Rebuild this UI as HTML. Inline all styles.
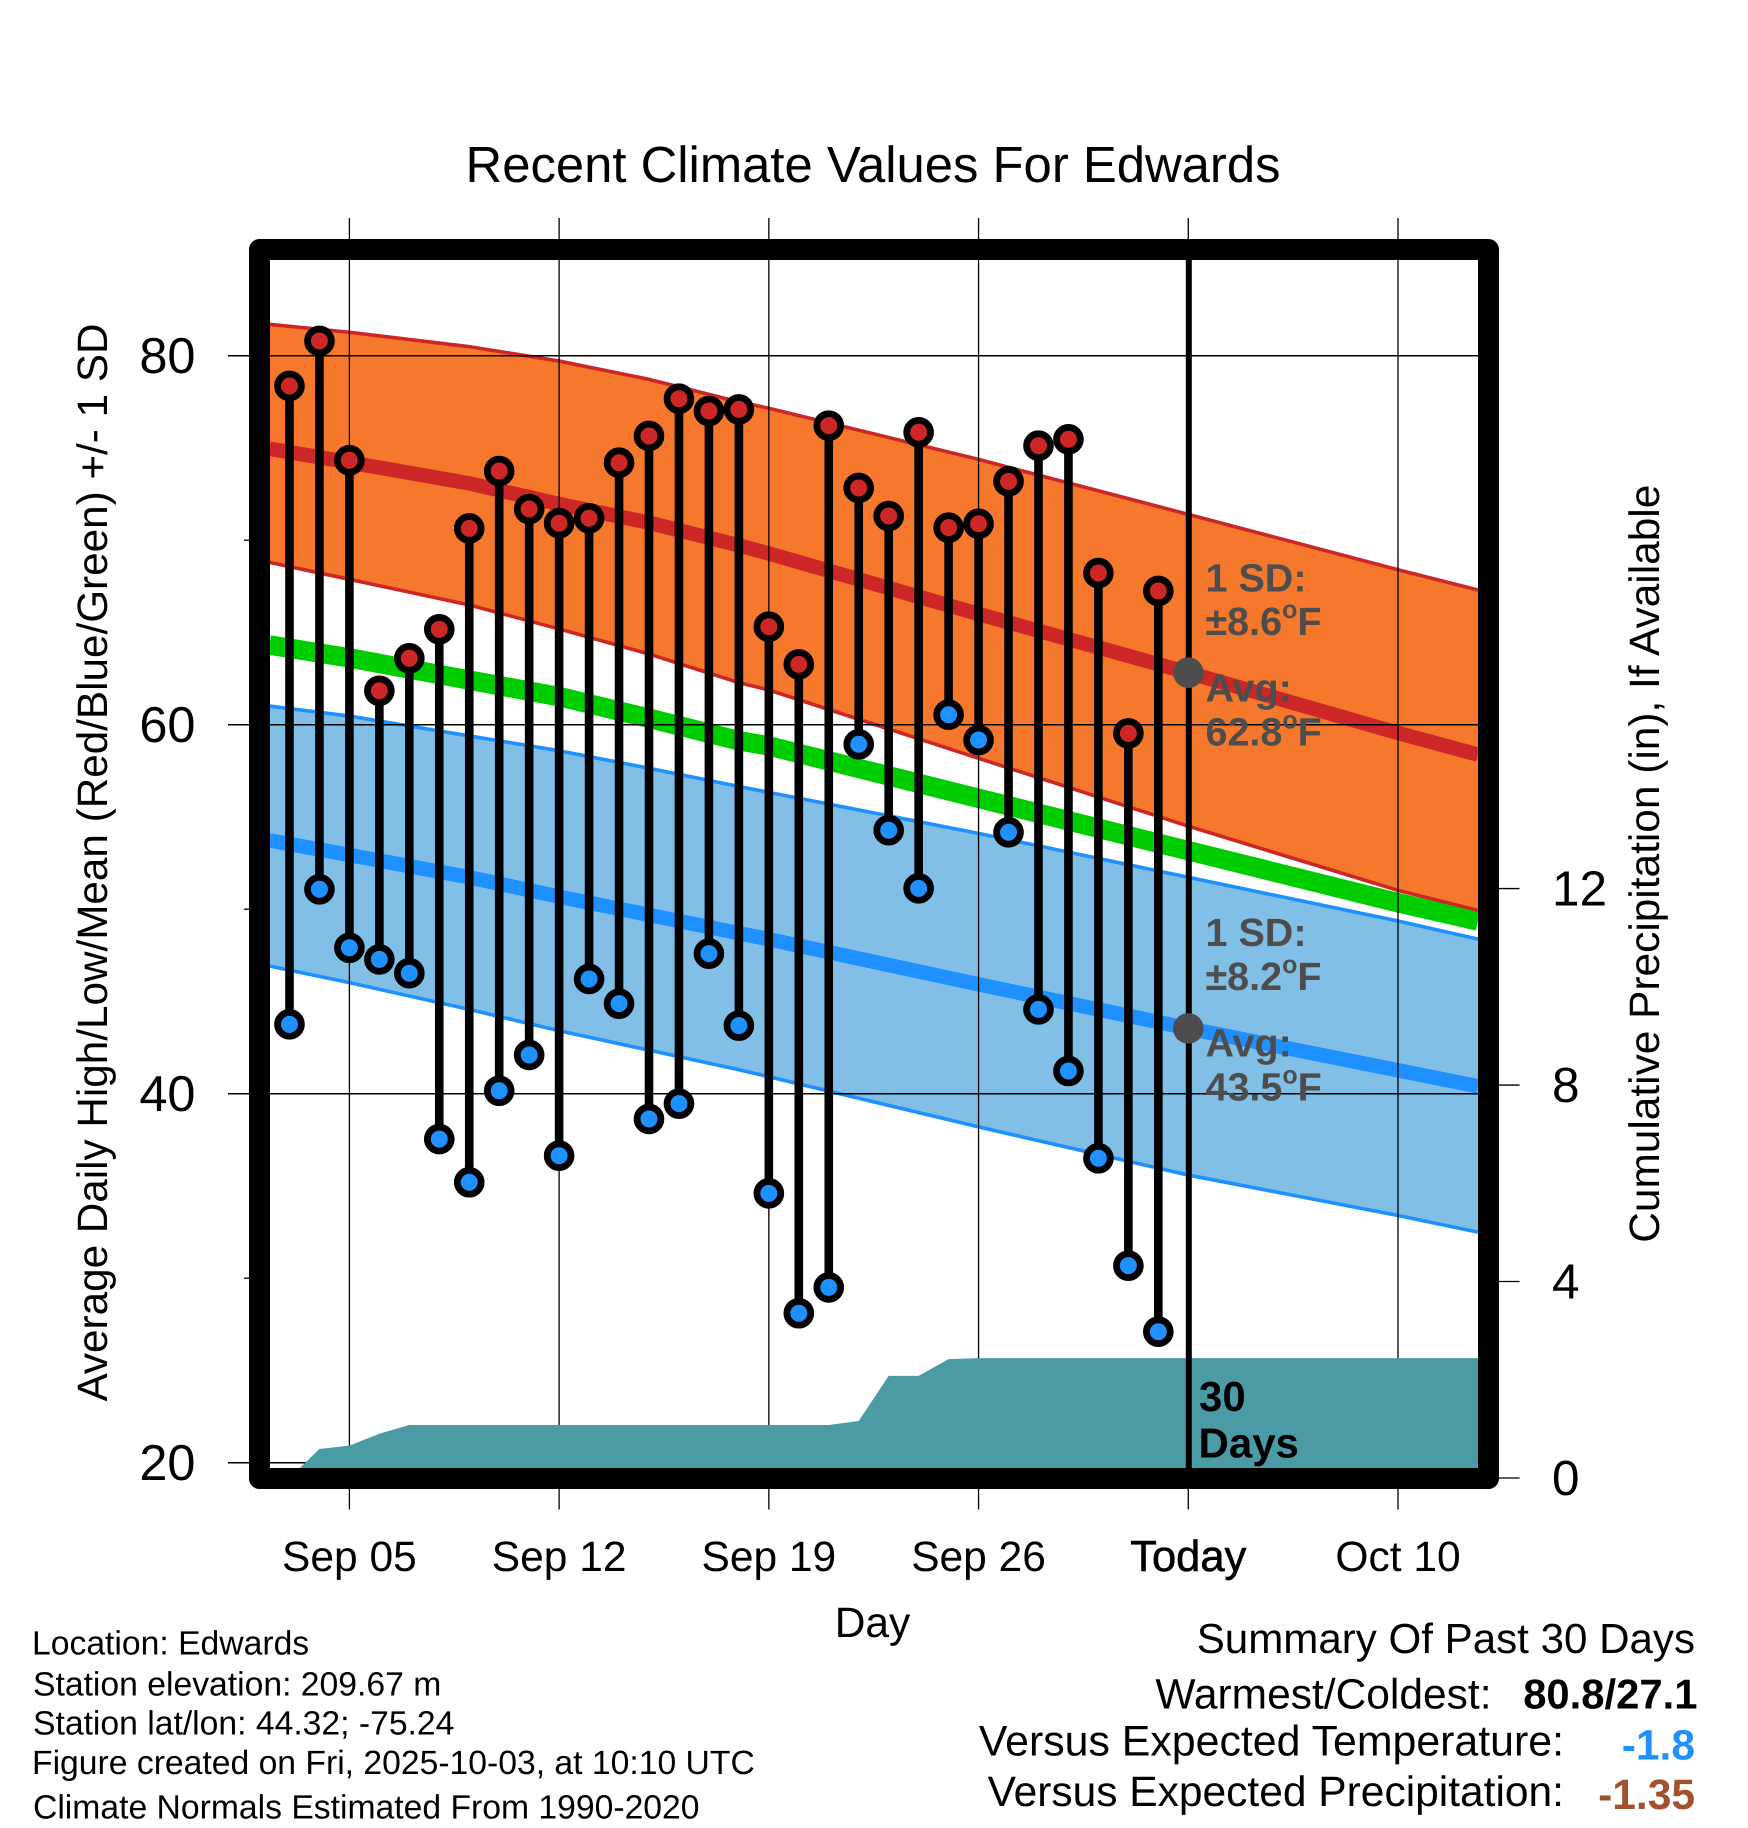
<!DOCTYPE html>
<html lang="en">
<head>
<meta charset="utf-8">
<title>Recent Climate Values For Edwards</title>
<style>
html,body{margin:0;padding:0;background:#fff;}
svg{display:block;}
text{font-family:"Liberation Sans",Arial,sans-serif;fill:#000;text-rendering:geometricPrecision;}
.note{font-weight:bold;font-size:39.5px;fill:#4d4d4d;}
.sup{font-size:25px;}
.xt{font-size:42.5px;text-anchor:middle;}
.yl{font-size:50.5px;text-anchor:end;}
.yr{font-size:49.5px;}
.info{font-size:33.7px;}
.sum{font-size:42.5px;text-anchor:end;}
.sumv{font-size:41.8px;font-weight:bold;text-anchor:end;}
</style>
</head>
<body>
<svg id="chart" xmlns="http://www.w3.org/2000/svg" width="1748" height="1828" viewBox="0 0 1748 1828">
  <rect x="0" y="0" width="1748" height="1828" fill="#fff"/>
  <g id="bands"></g>
  <g id="grid"></g>
  <g id="precip"></g>
  <g id="stems"></g>
  <line x1="1188.8" y1="255" x2="1188.8" y2="1470" stroke="#000" stroke-width="6"/>
  <g id="dots"></g>
  <rect x="259.5" y="249.5" width="1229" height="1229" fill="none" stroke="#000" stroke-width="21" stroke-linejoin="round"/>
  <g id="avgdots"></g>
  <g id="xlabels"></g>
  <g id="ylabels"></g>

  <text x="873" y="182" font-size="50.8" text-anchor="middle">Recent Climate Values For Edwards</text>
  <text x="872.5" y="1637" font-size="42.5" text-anchor="middle">Day</text>
  <text transform="translate(107,862.5) rotate(-90)" font-size="42.5" text-anchor="middle" textLength="1078" lengthAdjust="spacingAndGlyphs">Average Daily High/Low/Mean (Red/Blue/Green) +/- 1 SD</text>
  <text transform="translate(1659,863.7) rotate(-90)" font-size="42.5" text-anchor="middle" textLength="758" lengthAdjust="spacingAndGlyphs">Cumulative Precipitation (in), If Available</text>

  <text class="note" x="1205.5" y="591.5">1 SD:</text>
  <text class="note" x="1205.5" y="635">±8.6<tspan class="sup" dy="-17">o</tspan><tspan dy="17">F</tspan></text>
  <text class="note" x="1205.5" y="701.5">Avg:</text>
  <text class="note" x="1205.5" y="745.5">62.8<tspan class="sup" dy="-17">o</tspan><tspan dy="17">F</tspan></text>
  <text class="note" x="1205.5" y="946">1 SD:</text>
  <text class="note" x="1205.5" y="990">±8.2<tspan class="sup" dy="-17">o</tspan><tspan dy="17">F</tspan></text>
  <text class="note" x="1205.5" y="1056.5">Avg:</text>
  <text class="note" x="1205.5" y="1100.5">43.5<tspan class="sup" dy="-17">o</tspan><tspan dy="17">F</tspan></text>

  <text x="1199" y="1411" font-size="42" font-weight="bold">30</text>
  <text x="1198.5" y="1457.3" font-size="42" font-weight="bold">Days</text>

  <text class="info" x="32" y="1654.5">Location: Edwards</text>
  <text class="info" x="33" y="1695.6">Station elevation: 209.67 m</text>
  <text class="info" x="33" y="1734.7">Station lat/lon: 44.32; -75.24</text>
  <text class="info" x="32" y="1774">Figure created on Fri, 2025-10-03, at 10:10 UTC</text>
  <text class="info" x="33" y="1818.5">Climate Normals Estimated From 1990-2020</text>

  <text class="sum" x="1695" y="1653" style="font-size:42.1px">Summary Of Past 30 Days</text>
  <text class="sum" x="1491.5" y="1708.4">Warmest/Coldest:</text>
  <text class="sumv" x="1697.5" y="1708.4">80.8/27.1</text>
  <text class="sum" x="1564" y="1755.5" style="font-size:42.85px">Versus Expected Temperature:</text>
  <text class="sumv" x="1695" y="1759.3" style="fill:#1e90ff;font-size:42.5px">-1.8</text>
  <text class="sum" x="1564" y="1806">Versus Expected Precipitation:</text>
  <text class="sumv" x="1695" y="1809" style="fill:#a0522d;font-size:42.5px">-1.35</text>
</svg>

<script>
// ---- data (days counted from Sep 0; Oct 3 = 33) ----
const normalDays = [2.33, 5, 9, 12, 15, 18, 19, 26, 33, 40, 42.67];
const highPlusSD = [81.70, 81.27, 80.49, 79.71, 78.72, 77.50, 77.15, 74.38, 71.40, 68.40, 67.30];
const highMean   = [74.96, 74.22, 73.08, 71.96, 70.95, 69.72, 69.28, 66.00, 62.82, 59.55, 58.38];
const highMinusSD= [68.80, 67.88, 66.49, 65.19, 63.83, 62.28, 61.88, 58.18, 54.50, 51.02, 49.94];
const overallMean= [64.32, 63.62, 62.42, 61.52, 60.35, 59.13, 58.85, 56.01, 53.17, 50.35, 49.36];
const lowPlusSD  = [61.01, 60.47, 59.39, 58.59, 57.64, 56.65, 56.33, 54.11, 51.73, 49.36, 48.38];
const lowMean    = [53.73, 52.94, 51.73, 50.68, 49.69, 48.70, 48.37, 45.93, 43.54, 41.27, 40.40];
const lowMinusSD = [46.92, 46.02, 44.57, 43.41, 42.36, 41.30, 40.92, 38.20, 35.59, 33.40, 32.50];

const obsDays = [3,4,5,6,7,8,9,10,11,12,13,14,15,16,17,18,19,20,21,22,23,24,25,26,27,28,29,30,31,32];
const obsHigh = [78.36,80.8,74.33,61.84,63.6,65.17,70.64,73.75,71.69,70.92,71.19,74.2,75.65,77.67,77.0,77.09,65.31,63.27,76.21,72.83,71.31,75.85,70.68,70.89,73.19,75.12,75.47,68.22,59.53,67.25];
const obsLow  = [43.76,51.08,47.91,47.28,46.53,37.54,35.2,40.16,42.1,36.64,46.22,44.88,38.63,39.46,47.59,43.69,34.6,28.1,29.5,58.94,54.28,51.13,60.54,59.17,54.17,44.57,41.23,36.5,30.68,27.1];

const precipDays = [3,4,5,6,7,21,22,23,24,25,26,42.67];
const precipVals = [0,0.59,0.66,0.9,1.08,1.08,1.16,2.08,2.08,2.42,2.44,2.44];

const xTickDays = [5,12,19,26,33,40];
const xTickLabels = ["Sep 05","Sep 12","Sep 19","Sep 26","Today","Oct 10"];
const yMajorTicks = [80,60,40,20];
const yMinorTicks = [70,50,30];
const rightTicks = [0,4,8,12];
const todayDay = 33;
const todayHighAvg = 62.82;
const todayLowAvg = 43.54;

// ---- axis functions ----
function xScale(d){ return 349.4 + (d - 5) * 29.96; }
function yScale(t){ return 355.7 + (80 - t) * 18.45; }
function pScale(p){ return 1478 - p * 49.12; }

const NS = "http://www.w3.org/2000/svg";
function mk(tag, parentId){
  const el = document.createElementNS(NS, tag);
  document.getElementById(parentId).appendChild(el);
  return el;
}
function linePts(vals){
  return normalDays.map(function(d,i){ return xScale(d).toFixed(2) + "," + yScale(vals[i]).toFixed(2); });
}
function bandPts(up, lo){
  return linePts(up).concat(linePts(lo).reverse()).join(" ");
}
function drawLine(el, vals, color, width){
  el.setAttribute("points", linePts(vals).join(" "));
  el.setAttribute("fill", "none");
  el.setAttribute("stroke", color);
  el.setAttribute("stroke-width", width);
  el.setAttribute("stroke-linejoin", "round");
}

// ---- bands and normals ----
let el;
el = mk("polygon", "bands");


el.setAttribute("points", bandPts(highPlusSD, highMinusSD));
el.setAttribute("fill", "#f6782c");

el = mk("polygon", "bands");


el.setAttribute("points", bandPts(lowPlusSD, lowMinusSD));
el.setAttribute("fill", "#82bfe7");

el = mk("polyline", "bands");


drawLine(el, overallMean, "#00cd00", 19.5);

el = mk("polyline", "bands");


drawLine(el, highPlusSD, "#cd2626", 3.6);

el = mk("polyline", "bands");


drawLine(el, highMinusSD, "#cd2626", 3.6);

el = mk("polyline", "bands");


drawLine(el, highMean, "#cd2626", 14.5);

el = mk("polyline", "bands");


drawLine(el, lowPlusSD, "#1e90ff", 3.6);

el = mk("polyline", "bands");


drawLine(el, lowMinusSD, "#1e90ff", 3.6);

el = mk("polyline", "bands");


drawLine(el, lowMean, "#1e90ff", 14.5);

// ---- grid and ticks ----
xTickDays.forEach(function(d){
  const ln = mk("line", "grid");
  
  
  ln.setAttribute("x1", xScale(d));
  ln.setAttribute("x2", xScale(d));
  ln.setAttribute("y1", 218);
  ln.setAttribute("y2", 1509.5);
  ln.setAttribute("stroke", "#000");
  ln.setAttribute("stroke-width", 1.3);
});
yMajorTicks.forEach(function(t){
  const ln = mk("line", "grid");
  
  
  ln.setAttribute("x1", 228);
  ln.setAttribute("x2", 1478);
  ln.setAttribute("y1", yScale(t));
  ln.setAttribute("y2", yScale(t));
  ln.setAttribute("stroke", "#000");
  ln.setAttribute("stroke-width", 1.5);
});
yMinorTicks.forEach(function(t){
  const ln = mk("line", "grid");
  
  
  ln.setAttribute("x1", 244);
  ln.setAttribute("x2", 252);
  ln.setAttribute("y1", yScale(t));
  ln.setAttribute("y2", yScale(t));
  ln.setAttribute("stroke", "#000");
  ln.setAttribute("stroke-width", 1.3);
});
rightTicks.forEach(function(p){
  const ln = mk("line", "grid");
  
  
  ln.setAttribute("x1", 1495);
  ln.setAttribute("x2", 1519.5);
  ln.setAttribute("y1", pScale(p));
  ln.setAttribute("y2", pScale(p));
  ln.setAttribute("stroke", "#000");
  ln.setAttribute("stroke-width", 1.3);
});

// ---- cumulative precipitation ----
const precipPts = precipDays.map(function(d,i){ return xScale(d).toFixed(2) + "," + pScale(precipVals[i]).toFixed(2); });
precipPts.push(xScale(precipDays[precipDays.length-1]).toFixed(2) + "," + pScale(0).toFixed(2));
el = mk("polygon", "precip");


el.setAttribute("points", precipPts.join(" "));
el.setAttribute("fill", "#4a9ba6");

// ---- daily stems and dots ----
obsDays.forEach(function(d,i){
  const st = mk("line", "stems");
  
  
  st.setAttribute("x1", xScale(d));
  st.setAttribute("x2", xScale(d));
  st.setAttribute("y1", yScale(obsHigh[i]));
  st.setAttribute("y2", yScale(obsLow[i]));
  st.setAttribute("stroke", "#000");
  st.setAttribute("stroke-width", 8.6);
});
obsDays.forEach(function(d,i){
  const hi = mk("circle", "dots");
  
  
  hi.setAttribute("cx", xScale(d));
  hi.setAttribute("cy", yScale(obsHigh[i]));
  hi.setAttribute("r", 11.9);
  hi.setAttribute("fill", "#cd2626");
  hi.setAttribute("stroke", "#000");
  hi.setAttribute("stroke-width", 6.8);
  const lo = mk("circle", "dots");
  
  
  lo.setAttribute("cx", xScale(d));
  lo.setAttribute("cy", yScale(obsLow[i]));
  lo.setAttribute("r", 11.9);
  lo.setAttribute("fill", "#1e90ff");
  lo.setAttribute("stroke", "#000");
  lo.setAttribute("stroke-width", 6.8);
});

// ---- today's average markers ----
el = mk("circle", "avgdots");


el.setAttribute("cx", xScale(todayDay));
el.setAttribute("cy", yScale(todayHighAvg));
el.setAttribute("r", 15.3);
el.setAttribute("fill", "#4d4d4d");

el = mk("circle", "avgdots");


el.setAttribute("cx", xScale(todayDay));
el.setAttribute("cy", yScale(todayLowAvg));
el.setAttribute("r", 15.3);
el.setAttribute("fill", "#4d4d4d");

// ---- axis labels ----
xTickDays.forEach(function(d,i){
  const t = mk("text", "xlabels");
  
  
  t.setAttribute("class", "xt");
  t.setAttribute("x", xScale(d));
  t.setAttribute("y", 1571);
  if (xTickLabels[i] === "Today") {
    t.setAttribute("stroke", "#000");
    t.setAttribute("stroke-width", 0.6);
    t.setAttribute("style", "font-size:43.5px");
  }
  t.textContent = xTickLabels[i];
});
yMajorTicks.forEach(function(v){
  const t = mk("text", "ylabels");
  
  
  t.setAttribute("class", "yl");
  t.setAttribute("x", 195.5);
  t.setAttribute("y", yScale(v) + 17.5);
  t.textContent = String(v);
});
rightTicks.forEach(function(v){
  const t = mk("text", "ylabels");
  
  
  t.setAttribute("class", "yr");
  t.setAttribute("x", 1552);
  t.setAttribute("y", pScale(v) + 17);
  t.textContent = String(v);
});
</script>
</body>
</html>
